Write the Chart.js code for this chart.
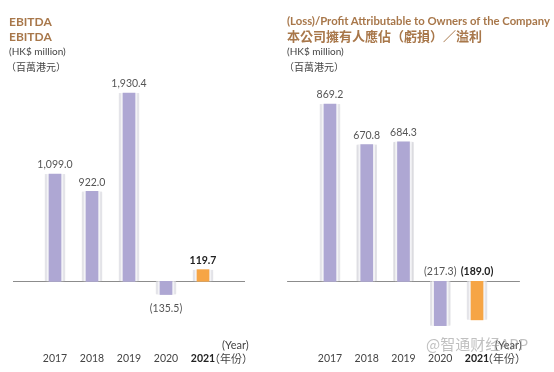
<!DOCTYPE html>
<html>
<head>
<meta charset="utf-8">
<script src="https://cdn.jsdelivr.net/npm/chart.js@4.4.0/dist/chart.umd.min.js"></script>
<style>
    body { margin: 0; background: #fff; font-family: Lato, "Noto Sans", sans-serif; }
    .page { position: relative; width: 554px; height: 372px; overflow: hidden; }
    .panel { position: absolute; top: 0; width: 277px; height: 372px; overflow: hidden; }
    .panel canvas { position: absolute; left: 0; top: 0; }
    .txt { position: absolute; white-space: nowrap; }
    .title { color: #a8774a; font-weight: bold; font-size: 12px; }
    .unit { color: #444; font-size: 10px; }
    .cjk { font-family: "Noto Sans CJK TC", "Noto Sans CJK SC", sans-serif; }
    .year { color: #444; font-size: 11px; }
    .mark { color: rgba(140,140,140,0.55); font-size: 15px; font-family: "Noto Sans CJK SC", sans-serif; }
</style>
</head>
<body>
<div class="page">
    <div class="panel" style="left:0">
        <canvas id="ebitda-chart" width="277" height="394"></canvas>
        <div class="txt title" style="left:9px;top:14px">EBITDA</div>
        <div class="txt title" style="left:9px;top:29px">EBITDA</div>
        <div class="txt unit" style="left:9px;top:45px">(HK$ million)</div>
        <div class="txt unit cjk" style="left:6px;top:59px">（百萬港元）</div>
        <div class="txt year" style="left:222px;top:338px">(Year)</div>
        <div class="txt year cjk" style="left:209px;top:350px">（年份）</div>
    </div>
    <div class="panel" style="left:277px">
        <canvas id="profit-chart" width="277" height="394"></canvas>
        <div class="txt title" style="left:10px;top:14px;font-size:11.3px">(Loss)/Profit Attributable to Owners of the Company</div>
        <div class="txt title cjk" style="left:10px;top:26px;font-size:13px">本公司擁有人應佔（虧損）／溢利</div>
        <div class="txt unit" style="left:10px;top:45px">(HK$ million)</div>
        <div class="txt unit cjk" style="left:7px;top:59px">（百萬港元）</div>
        <div class="txt year" style="left:218px;top:338px">(Year)</div>
        <div class="txt year cjk" style="left:205px;top:350px">（年份）</div>
    </div>
    <div class="txt mark" style="left:426px;top:333px">@智通财经APP</div>
</div>

<script>
// Data
const years = ['2017', '2018', '2019', '2020', '2021'];
const ebitdaValues = [1099.0, 922.0, 1930.4, -135.5, 119.7];
const profitValues = [869.2, 670.8, 684.3, -217.3, -189.0];

const PURPLE = '#aea7d3';
const ORANGE = '#f6a545';
const barColors = years.map((y, i) => i === years.length - 1 ? ORANGE : PURPLE);

// format 1930.4 -> "1,930.4", negatives in brackets
function fmt(v) {
    const s = Math.abs(v).toLocaleString('en-US', { minimumFractionDigits: 1, maximumFractionDigits: 1 });
    return v < 0 ? '(' + s + ')' : s;
}

// zero line, shadow for the pale bar backing, value labels
const decorPlugin = {
    id: 'decor',
    beforeDatasetsDraw(chart) {
        const ctx = chart.ctx;
        const y0 = Math.round(chart.scales.y.getPixelForValue(0)) + 0.5;
        const ext = chart.options.plugins.decor.lineExt;
        ctx.save();
        ctx.strokeStyle = '#8c8c8c';
        ctx.lineWidth = 1;
        ctx.beginPath();
        ctx.moveTo(chart.chartArea.left - ext, y0);
        ctx.lineTo(chart.chartArea.right + ext, y0);
        ctx.stroke();
        ctx.restore();
    },
    beforeDatasetDraw(chart, args) {
        if (args.index === 1) {
            chart.ctx.save();
            chart.ctx.shadowColor = 'rgba(0,0,0,0.12)';
            chart.ctx.shadowBlur = 3;
        }
    },
    afterDatasetDraw(chart, args) {
        if (args.index === 1) chart.ctx.restore();
    },
    afterDatasetsDraw(chart) {
        const ctx = chart.ctx;
        const opts = chart.options.plugins.decor;
        const data = chart.data.datasets[0].data;
        const y0 = chart.scales.y.getPixelForValue(0);
        ctx.save();
        ctx.textAlign = 'center';
        chart.getDatasetMeta(0).data.forEach((bar, i) => {
            const v = data[i];
            const last = i === data.length - 1;
            ctx.font = (last ? 'bold ' : '') + '10.5px Lato, "Noto Sans", sans-serif';
            ctx.fillStyle = last ? '#222' : '#555';
            if (v >= 0) {
                ctx.textBaseline = 'bottom';
                ctx.fillText(fmt(v), bar.x, bar.y - 4);
            } else if (opts.negBelow) {
                ctx.textBaseline = 'top';
                ctx.fillText(fmt(v), bar.x, bar.y + 9);
            } else {
                ctx.textBaseline = 'bottom';
                ctx.fillText(fmt(v), bar.x, y0 - 4);
            }
        });
        ctx.restore();
    }
};

function makeChart(id, values, yMin, yMax, padLeft, padRight, negBelow, lineExt) {
    return new Chart(document.getElementById(id), {
        type: 'bar',
        data: {
            labels: years,
            datasets: [
                {
                    data: values,
                    backgroundColor: barColors,
                    barThickness: 12,
                    grouped: false,
                    clip: false
                },
                {
                    data: values,
                    backgroundColor: '#f3f3f6',
                    borderColor: '#e6e6eb',
                    borderWidth: { left: 2, right: 2 },
                    barThickness: 20,
                    grouped: false,
                    clip: false
                }
            ]
        },
        options: {
            responsive: false,
            animation: false,
            layout: { padding: { top: 66.7, bottom: 8, left: padLeft, right: padRight } },
            scales: {
                x: {
                    grid: { display: false, drawTicks: false },
                    border: { display: false },
                    ticks: {
                        padding: 21.5,
                        color: ctx => ctx.index === years.length - 1 ? '#222' : '#444',
                        font: ctx => ({
                            size: 10.5,
                            family: 'Lato, "Noto Sans", sans-serif',
                            weight: ctx.index === years.length - 1 ? 'bold' : 'normal'
                        })
                    }
                },
                y: { display: false, min: yMin, max: yMax }
            },
            plugins: {
                legend: { display: false },
                tooltip: { enabled: false },
                decor: { negBelow: negBelow, lineExt: lineExt }
            }
        },
        plugins: [decorPlugin]
    });
}

makeChart('ebitda-chart', ebitdaValues, -503, 2200, 36.5, 55.5, true, 23.5);
makeChart('profit-chart', profitValues, -240.7, 1052.6, 34.6, 58.6, false, 24.5);
</script>
</body>
</html>
